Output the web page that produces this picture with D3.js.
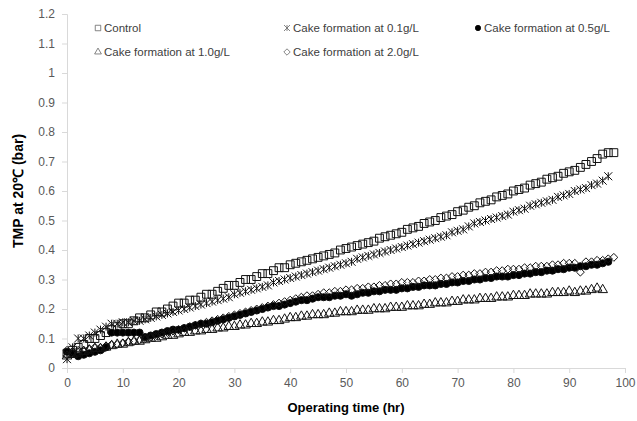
<!DOCTYPE html>
<html>
<head>
<meta charset="utf-8">
<script src="https://cdn.jsdelivr.net/npm/d3@7"></script>
<style>
  body { margin: 0; background: #fff; }
  svg { font-family: "Liberation Sans", Arial, sans-serif; }
</style>
</head>
<body>
<div id="chart"></div>
<script>
// hours 0,1,2,... for each series
const control = [
  0.05,0.06,0.07,0.08,0.10,0.10,0.11,0.12,0.13,0.14,
  0.15,0.15,0.16,0.17,0.17,0.18,0.19,0.19,0.20,0.21,
  0.22,0.22,0.23,0.23,0.24,0.25,0.25,0.26,0.27,0.28,
  0.28,0.29,0.30,0.30,0.31,0.32,0.32,0.33,0.34,0.34,
  0.35,0.355,0.36,0.365,0.37,0.375,0.38,0.385,0.39,0.40,
  0.405,0.41,0.415,0.42,0.425,0.43,0.44,0.445,0.45,0.455,
  0.46,0.47,0.475,0.48,0.49,0.495,0.50,0.51,0.515,0.52,
  0.53,0.535,0.545,0.55,0.56,0.565,0.57,0.58,0.585,0.59,
  0.60,0.605,0.61,0.62,0.625,0.63,0.64,0.645,0.65,0.66,
  0.665,0.67,0.68,0.69,0.70,0.71,0.725,0.73,0.73
];
const cake01 = [
  0.03,0.07,0.10,0.10,0.11,0.12,0.13,0.14,0.15,0.15,
  0.155,0.155,0.16,0.16,0.165,0.17,0.175,0.18,0.185,0.19,
  0.195,0.20,0.205,0.21,0.215,0.22,0.225,0.23,0.235,0.24,
  0.25,0.255,0.26,0.265,0.27,0.275,0.28,0.29,0.295,0.30,
  0.305,0.31,0.315,0.32,0.325,0.33,0.335,0.34,0.345,0.35,
  0.355,0.36,0.37,0.375,0.38,0.385,0.39,0.395,0.40,0.405,
  0.41,0.415,0.42,0.425,0.43,0.435,0.44,0.445,0.45,0.46,
  0.465,0.47,0.48,0.49,0.495,0.50,0.505,0.51,0.515,0.52,
  0.53,0.535,0.54,0.55,0.555,0.56,0.565,0.57,0.58,0.585,
  0.59,0.60,0.605,0.61,0.62,0.625,0.635,0.65
];
const cake05 = [
  0.055,0.05,0.04,0.045,0.05,0.055,0.06,0.07,0.12,0.12,
  0.12,0.12,0.12,0.12,0.105,0.11,0.115,0.12,0.125,0.13,
  0.13,0.135,0.14,0.145,0.15,0.15,0.155,0.16,0.165,0.17,
  0.175,0.18,0.185,0.19,0.195,0.20,0.205,0.21,0.21,0.215,
  0.22,0.225,0.23,0.23,0.235,0.24,0.24,0.24,0.245,0.245,
  0.25,0.245,0.25,0.255,0.255,0.26,0.26,0.265,0.265,0.265,
  0.27,0.27,0.275,0.275,0.28,0.28,0.28,0.285,0.285,0.29,
  0.29,0.295,0.295,0.30,0.30,0.305,0.305,0.31,0.31,0.31,
  0.315,0.315,0.32,0.32,0.325,0.325,0.33,0.33,0.335,0.335,
  0.34,0.34,0.345,0.345,0.35,0.35,0.355,0.36
];
const cake10 = [
  0.04,0.045,0.05,0.055,0.06,0.065,0.065,0.07,0.075,0.08,
  0.08,0.085,0.09,0.09,0.095,0.10,0.10,0.105,0.11,0.11,
  0.115,0.12,0.12,0.125,0.125,0.13,0.13,0.135,0.135,0.14,
  0.14,0.145,0.145,0.15,0.15,0.155,0.155,0.16,0.16,0.165,
  0.17,0.17,0.175,0.175,0.18,0.18,0.18,0.185,0.185,0.19,
  0.19,0.19,0.195,0.195,0.195,0.20,0.20,0.20,0.205,0.205,
  0.205,0.21,0.21,0.21,0.215,0.215,0.22,0.22,0.22,0.225,
  0.225,0.23,0.23,0.23,0.235,0.235,0.235,0.24,0.24,0.24,
  0.245,0.245,0.245,0.25,0.25,0.25,0.25,0.255,0.255,0.255,
  0.26,0.255,0.26,0.26,0.265,0.27,0.265
];
const cake20 = [
  0.06,0.055,0.06,0.06,0.065,0.07,0.07,0.075,0.08,0.08,
  0.085,0.09,0.09,0.095,0.10,0.105,0.11,0.115,0.12,0.125,
  0.13,0.135,0.14,0.145,0.15,0.155,0.16,0.165,0.17,0.175,
  0.18,0.185,0.19,0.195,0.20,0.205,0.21,0.215,0.22,0.225,
  0.23,0.235,0.24,0.245,0.245,0.25,0.255,0.255,0.26,0.26,
  0.265,0.265,0.27,0.27,0.275,0.275,0.28,0.28,0.285,0.285,
  0.29,0.29,0.29,0.295,0.295,0.30,0.30,0.305,0.305,0.31,
  0.31,0.315,0.315,0.32,0.32,0.325,0.325,0.33,0.33,0.335,
  0.335,0.335,0.34,0.34,0.345,0.345,0.345,0.35,0.35,0.355,
  0.355,0.355,0.325,0.36,0.36,0.365,0.365,0.37,0.375
];
const seriesNames = ["Control", "Cake formation at 0.1g/L", "Cake formation at 0.5g/L",
  "Cake formation at 1.0g/L", "Cake formation at 2.0g/L"];
const xTicks = [0, 10, 20, 30, 40, 50, 60, 70, 80, 90, 100];
const yTicks = [0, 0.1, 0.2, 0.3, 0.4, 0.5, 0.6, 0.7, 0.8, 0.9, 1, 1.1, 1.2];

const width = 637, height = 421;
const margin = { left: 67, right: 12, top: 14, bottom: 53 };

const svg = d3.select("#chart").append("svg")
  .attr("width", width).attr("height", height);

const x = d3.scaleLinear().domain([0, 100]).range([margin.left, width - margin.right]);
const y = d3.scaleLinear().domain([0, 1.2]).range([height - margin.bottom, margin.top]);

// axes
const xAxis = svg.append("g")
  .attr("transform", `translate(0,${height - margin.bottom})`)
  .call(d3.axisBottom(x).tickValues(xTicks).tickSize(5).tickPadding(5).tickFormat(d3.format("d")));
const yAxis = svg.append("g")
  .attr("transform", `translate(${margin.left},0)`)
  .call(d3.axisLeft(y).tickValues(yTicks).tickSize(5).tickPadding(7).tickFormat(d => d3.format("~g")(d)));
[xAxis, yAxis].forEach(g => {
  g.selectAll("path, line").attr("stroke", "#d9d9d9");
  g.selectAll("text").attr("fill", "#595959").style("font-size", "12px")
    .style("font-family", "'Liberation Sans', Arial, sans-serif");
});

svg.append("text")
  .attr("x", (x(0) + x(100)) / 2).attr("y", 412)
  .attr("text-anchor", "middle")
  .style("font-weight", "bold").style("font-size", "13px")
  .text("Operating time (hr)");
svg.append("text")
  .attr("transform", `translate(23,${(y(0) + y(1.2)) / 2}) rotate(-90)`)
  .attr("text-anchor", "middle")
  .style("font-weight", "bold").style("font-size", "14px")
  .text("TMP at 20℃ (bar)");

// marker shapes: X with a vertical bar for the 0.1 g/L series
const asterisk = d3.symbol().type({
  draw(ctx, size) {
    const r = Math.sqrt(size) / 2;
    ctx.moveTo(0, -r); ctx.lineTo(0, r);
    ctx.moveTo(-r, -r); ctx.lineTo(r, r);
    ctx.moveTo(r, -r); ctx.lineTo(-r, r);
  }
});
const markers = [
  { data: control, path: d3.symbol(d3.symbolSquare, 62)(), fill: "none" },
  { data: cake01, path: asterisk.size(64)(), fill: "none" },
  { data: cake05, path: d3.symbol(d3.symbolCircle, 40)(), fill: "#000" },
  { data: cake10, path: d3.symbol(d3.symbolTriangle, 40)(), fill: "none" },
  { data: cake20, path: d3.symbol(d3.symbolDiamond2, 40)(), fill: "none" }
];

const plot = svg.append("g");
markers.forEach(m => {
  plot.append("g").selectAll("path").data(m.data).join("path")
    .attr("transform", (d, i) => `translate(${x(i)},${y(d)})`)
    .attr("d", m.path)
    .attr("fill", m.fill)
    .attr("stroke", "#111")
    .attr("stroke-width", 1);
});

// legend
const legendPos = [[98, 28], [287, 28], [478, 28], [98, 52], [287, 52]];
const legendShapes = [
  d3.symbol(d3.symbolSquare, 30)(), asterisk.size(36)(), d3.symbol(d3.symbolCircle, 22)(),
  d3.symbol(d3.symbolTriangle, 20)(), d3.symbol(d3.symbolDiamond2, 26)()
];
const legend = svg.append("g");
seriesNames.forEach((name, i) => {
  const [lx, ly] = legendPos[i];
  const g = legend.append("g").attr("transform", `translate(${lx},${ly})`);
  g.append("path").attr("d", legendShapes[i])
    .attr("fill", i === 2 ? "#000" : "none")
    .attr("stroke", i === 2 ? "#000" : "#666").attr("stroke-width", 0.8);
  g.append("text").attr("x", 6).attr("y", 4)
    .style("font-size", "11.5px").attr("fill", "#404040")
    .text(name);
});
</script>
</body>
</html>
